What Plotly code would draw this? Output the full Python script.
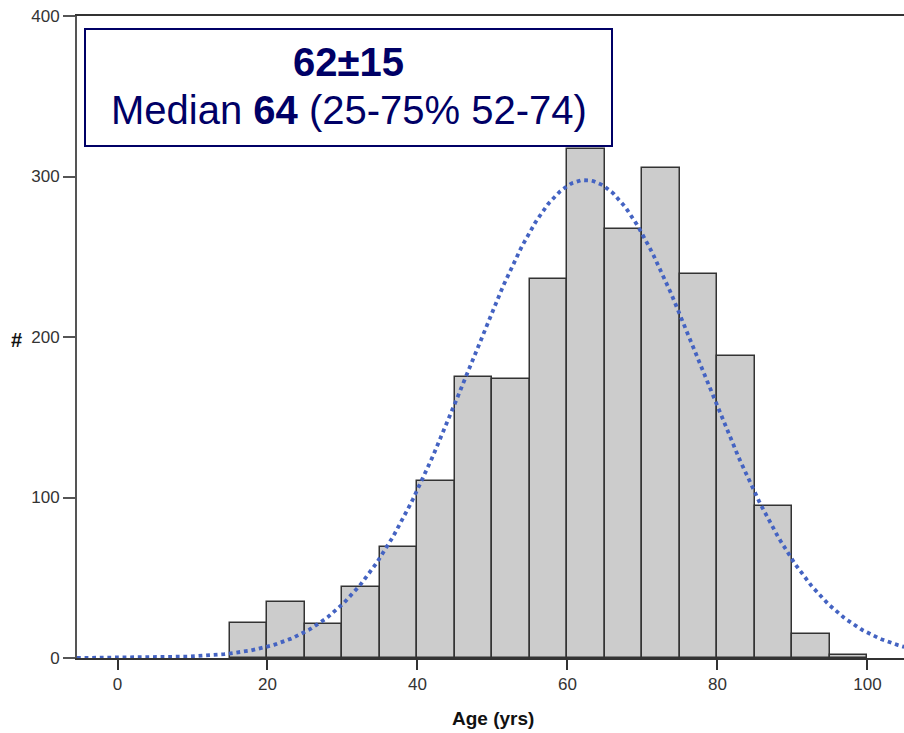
import numpy as np
import plotly.graph_objects as go

# Age histogram: 5-year bins (left edges) and patient counts
bin_starts = [15, 20, 25, 30, 35, 40, 45, 50, 55, 60, 65, 70, 75, 80, 85, 90, 95]
counts = [22, 35, 21, 44, 69, 110, 175, 174, 236, 317, 267, 305, 239, 188, 95, 15, 2]
bin_width = 5

# Fitted normal curve parameters
fit_mean = 62.4
fit_sd = 15.5

x_ticks = [0, 20, 40, 60, 80, 100]
y_ticks = [0, 100, 200, 300, 400]

W, H = 904, 733
L, R, T, B = 77, 0, 16, 75
pw, ph = W - L - R, H - T - B


def px(x):
    return (x - L) / pw


def py(y):
    return (H - B - y) / ph


centers = [s + bin_width / 2 for s in bin_starts]
n_total = sum(counts)
xc = np.linspace(-5.4, 104.9, 400)
yc = n_total * bin_width / (fit_sd * np.sqrt(2 * np.pi)) * np.exp(-0.5 * ((xc - fit_mean) / fit_sd) ** 2)

navy = "#000066"
font = "Liberation Sans, Arial, sans-serif"

fig = go.Figure()
fig.add_trace(go.Bar(
    x=centers, y=counts, width=bin_width,
    marker=dict(color="#cccccc", line=dict(color="#333333", width=1.5)),
    hoverinfo="x+y",
))
fig.add_trace(go.Scatter(
    x=xc, y=yc, mode="lines",
    line=dict(color="#4463c2", width=3.8, dash="dot"),
    hoverinfo="skip",
))

fig.update_layout(
    width=W, height=H,
    margin=dict(l=L, r=R, t=T, b=B),
    paper_bgcolor="white", plot_bgcolor="white",
    showlegend=False, bargap=0,
    font=dict(family=font, color="#333333", size=14),
    xaxis=dict(
        range=[-5.4, 104.87], tickvals=x_ticks, ticks="outside", ticklen=10,
        tickcolor="#333333", tickwidth=1.5,
        showline=True, linecolor="#333333", linewidth=1.5, mirror=True,
        showgrid=False, zeroline=False,
        tickfont=dict(size=17, color="#333333"),
    ),
    yaxis=dict(
        range=[0, 400], tickvals=y_ticks, ticks="outside", ticklen=12,
        tickcolor="#555555", tickwidth=1.5,
        showline=True, linecolor="#555555", linewidth=2,
        showgrid=False, zeroline=False,
        tickfont=dict(size=17, color="#333333"),
    ),
    shapes=[dict(
        type="rect", xref="paper", yref="paper",
        x0=px(85), x1=px(612), y0=py(146), y1=py(29),
        line=dict(color=navy, width=2), fillcolor="white", layer="above",
    )],
    annotations=[
        dict(text="<b>62±15</b>", xref="paper", yref="paper",
             x=px(348.5), y=py(62), xanchor="center", yanchor="middle",
             showarrow=False, font=dict(size=40, color=navy, family=font)),
        dict(text="Median <b>64</b> (25-75% 52-74)", xref="paper", yref="paper",
             x=px(348.5), y=py(110), xanchor="center", yanchor="middle",
             showarrow=False, font=dict(size=40, color=navy, family=font)),
        dict(text="<b>Age (yrs)</b>", xref="paper", yref="paper",
             x=px(493), y=py(718), xanchor="center", yanchor="middle",
             showarrow=False, font=dict(size=19, color="#111111", family=font)),
        dict(text="<b>#</b>", xref="paper", yref="paper",
             x=px(17), y=py(340), xanchor="center", yanchor="middle",
             showarrow=False, font=dict(size=20, color="#111111", family=font)),
    ],
)

fig.write_html("out.html")
